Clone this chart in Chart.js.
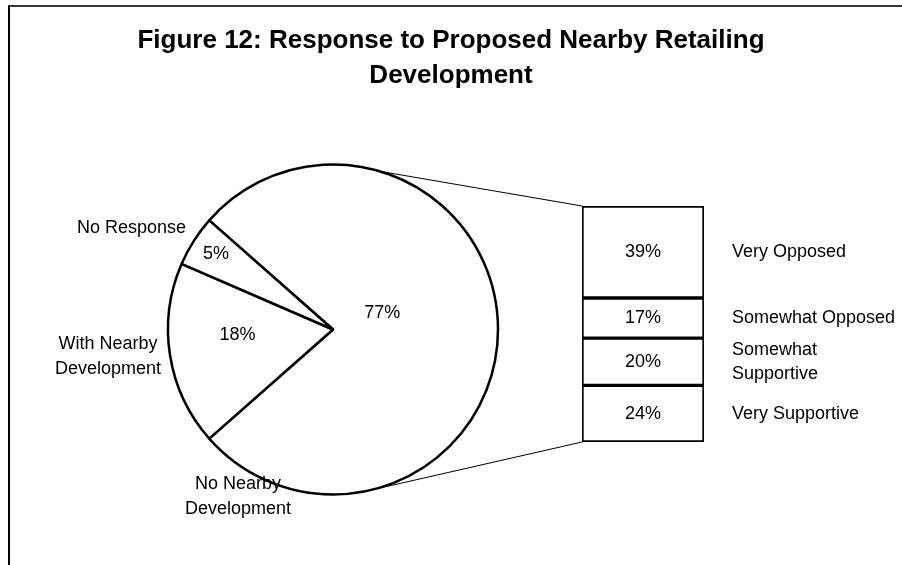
<!DOCTYPE html>
<html>
<head>
<meta charset="utf-8">
<script src="https://cdn.jsdelivr.net/npm/chart.js@4.4.1/dist/chart.umd.min.js"></script>
<style>
  html, body { margin: 0; padding: 0; background: #fff; overflow: hidden; }
  #wrap { position: relative; width: 902px; height: 565px; overflow: hidden; }
  #wrap canvas { position: absolute; left: 0; top: 0; }
  #frame { position: absolute; left: 8px; top: 5px; width: 1000px; height: 700px;
           border-top: 2px solid #333; border-left: 2px solid #000; }
</style>
</head>
<body>
<div id="wrap">
  <div id="frame"></div>
  <canvas id="pieChart" width="902" height="565"></canvas>
  <canvas id="barChart" width="902" height="565"></canvas>
</div>
<script>
const titleLines = ['Figure 12: Response to Proposed Nearby Retailing', 'Development'];
const pieCategories = [['No Nearby', 'Development'], ['With Nearby', 'Development'], ['No Response']];
const pieValues = [77, 18, 5];
const barCategories = [['Very Opposed'], ['Somewhat Opposed'], ['Somewhat', 'Supportive'], ['Very Supportive']];
const barValues = [39, 17, 20, 24];

const FONT = '"Liberation Sans", Arial, sans-serif';
const pieTotal = pieValues.reduce((a, b) => a + b, 0);
const barTotal = barValues.reduce((a, b) => a + b, 0);

// percentages inside the pie and the category names round it
const pieText = {
  id: 'pieText',
  afterDatasetsDraw(chart, args, opts) {
    const ctx = chart.ctx;
    const arcs = chart.getDatasetMeta(0).data;
    ctx.save();
    ctx.font = '18px ' + FONT;
    ctx.fillStyle = '#000';
    ctx.textBaseline = 'middle';
    arcs.forEach((arc, i) => {
      const p = arc.getProps(['x', 'y', 'startAngle', 'endAngle', 'outerRadius']);
      const inner = opts.inner[i];
      const a = (p.startAngle + p.endAngle) / 2 + inner.turn * Math.PI / 180;
      const r = p.outerRadius * inner.dist;
      ctx.textAlign = 'center';
      ctx.fillText(pieValues[i] + '%', p.x + r * Math.cos(a), p.y + r * Math.sin(a));
      const o = opts.outer[i];
      ctx.textAlign = o.align;
      pieCategories[i].forEach((line, k) => {
        ctx.fillText(line, p.x + o.dx, p.y + o.dy + k * opts.lineGap);
      });
    });
    ctx.restore();
  }
};

// bar labels, names on the right and the two lines back to the pie
const barText = {
  id: 'barText',
  afterDatasetsDraw(chart, args, opts) {
    const ctx = chart.ctx;
    const n = chart.data.datasets.length;
    ctx.save();
    ctx.font = '18px ' + FONT;
    ctx.fillStyle = '#000';
    ctx.textBaseline = 'middle';
    chart.data.datasets.forEach((ds, i) => {
      const b = chart.getDatasetMeta(i).data[0].getProps(['x', 'y', 'base', 'width']);
      const cy = (b.y + b.base) / 2;
      ctx.textAlign = 'center';
      ctx.fillText(ds.data[0] + '%', b.x, cy);
      ctx.textAlign = 'left';
      const lines = barCategories[i];
      lines.forEach((line, k) => {
        ctx.fillText(line, b.x + b.width / 2 + opts.gap, cy + (k - (lines.length - 1) / 2) * opts.lineGap);
      });
    });

    const arc = pieChart.getDatasetMeta(0).data[0].getProps(['x', 'y', 'outerRadius']);
    const topBar = chart.getDatasetMeta(0).data[0].getProps(['x', 'y', 'base', 'width']);
    const botBar = chart.getDatasetMeta(n - 1).data[0].getProps(['x', 'y', 'base', 'width']);
    const ends = [
      [topBar.x - topBar.width / 2, Math.min(topBar.y, topBar.base)],
      [botBar.x - botBar.width / 2, Math.max(botBar.y, botBar.base)]
    ];
    ctx.strokeStyle = '#000';
    ctx.lineWidth = 1;
    opts.fromAngles.forEach((deg, k) => {
      const a = deg * Math.PI / 180;
      ctx.beginPath();
      ctx.moveTo(arc.x + arc.outerRadius * Math.cos(a), arc.y + arc.outerRadius * Math.sin(a));
      ctx.lineTo(ends[k][0], ends[k][1]);
      ctx.stroke();
    });
    ctx.restore();
  }
};

const pieChart = new Chart(document.getElementById('pieChart'), {
  type: 'pie',
  data: {
    labels: pieCategories.map(c => c.join(' ')),
    datasets: [{
      data: pieValues,
      backgroundColor: '#fff',
      borderColor: '#000',
      borderWidth: 2.5,
      radius: 165
    }]
  },
  options: {
    responsive: false,
    animation: false,
    rotation: 90 - pieValues[0] / pieTotal * 180,
    layout: { padding: 0 },
    scales: {
      // empty right-hand box so the pie sits left of centre while the title stays centred
      side: {
        type: 'linear',
        position: 'right',
        grid: { display: false },
        border: { display: false },
        ticks: { display: false },
        afterFit: s => { s.width = 236; }
      }
    },
    plugins: {
      legend: { display: false },
      tooltip: { enabled: false },
      title: {
        display: true,
        text: titleLines,
        color: '#000',
        font: { family: FONT, size: 26, weight: 'bold', lineHeight: '35px' },
        padding: { top: 23, bottom: 1 }
      },
      pieText: {
        lineGap: 25,
        inner: [{ turn: -19, dist: 0.315 }, { turn: 5.6, dist: 0.58 }, { turn: 0.6, dist: 0.845 }],
        outer: [
          { dx: -95, dy: 155, align: 'center' },
          { dx: -225, dy: 15, align: 'center' },
          { dx: -147, dy: -101, align: 'right' }
        ]
      }
    }
  },
  plugins: [pieText]
});

const barChart = new Chart(document.getElementById('barChart'), {
  type: 'bar',
  data: {
    labels: ['Breakdown'],
    datasets: barCategories.map((c, i) => ({
      label: c.join(' '),
      data: [barValues[i]],
      backgroundColor: '#fff',
      borderColor: '#000',
      borderWidth: 2,
      borderSkipped: false,
      categoryPercentage: 1,
      barPercentage: 1
    }))
  },
  options: {
    responsive: false,
    animation: false,
    layout: { padding: { left: 582, right: 198, top: 206, bottom: 123 } },
    scales: {
      x: { stacked: true, display: false },
      y: { stacked: true, display: false, reverse: true, min: 0, max: barTotal }
    },
    plugins: {
      legend: { display: false },
      tooltip: { enabled: false },
      barText: { gap: 28, lineGap: 24, fromAngles: [-73.5, 78] }
    }
  },
  plugins: [barText]
});
</script>
</body>
</html>
